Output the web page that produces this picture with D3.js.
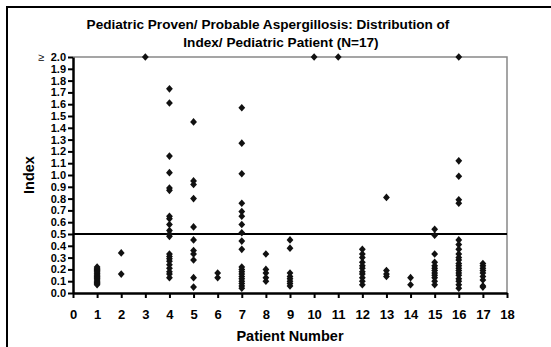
<!DOCTYPE html>
<html>
<head>
<meta charset="utf-8">
<script src="https://cdn.jsdelivr.net/npm/d3@7"></script>
<style>
  body { margin: 0; background: #fff; }
  svg text { font-family: Arial, "Liberation Sans", sans-serif; font-weight: bold; fill: #000; }
</style>
</head>
<body>
<div id="chart"></div>
<script>
// ---- Data (index values per patient)
const titleLines = ['Pediatric Proven/ Probable Aspergillosis: Distribution of',
                    'Index/ Pediatric Patient (N=17)'];
const xTicks = d3.range(0, 19);
const yTicks = d3.range(0, 21).map(i => i / 10);
const cutoff = 0.5;

const patientValues = [
  [1,  [0.07, 0.08, 0.09, 0.10, 0.11, 0.12, 0.13, 0.14, 0.15, 0.16, 0.17, 0.18, 0.19, 0.20, 0.21, 0.22]],
  [2,  [0.16, 0.34]],
  [3,  [2.0]],
  [4,  [1.73, 1.61, 1.16, 1.02, 0.89, 0.87, 0.65, 0.63, 0.58, 0.53, 0.50, 0.48, 0.33, 0.31, 0.29, 0.27, 0.24, 0.21, 0.18, 0.16, 0.13]],
  [5,  [1.45, 0.95, 0.92, 0.80, 0.56, 0.45, 0.36, 0.33, 0.28, 0.13, 0.05]],
  [6,  [0.17, 0.13]],
  [7,  [1.57, 1.27, 1.01, 0.76, 0.69, 0.65, 0.58, 0.51, 0.44, 0.37, 0.22, 0.20, 0.18, 0.16, 0.14, 0.12, 0.10, 0.08, 0.06, 0.04]],
  [8,  [0.33, 0.20, 0.17, 0.13, 0.10]],
  [9,  [0.45, 0.38, 0.17, 0.14, 0.12, 0.10, 0.08, 0.06]],
  [10, [2.0]],
  [11, [2.0]],
  [12, [0.37, 0.33, 0.30, 0.26, 0.23, 0.21, 0.18, 0.16, 0.13, 0.10, 0.07]],
  [13, [0.81, 0.19, 0.16, 0.14]],
  [14, [0.13, 0.07]],
  [15, [0.54, 0.49, 0.33, 0.26, 0.23, 0.21, 0.19, 0.17, 0.15, 0.13, 0.10, 0.07]],
  [16, [2.0, 1.12, 0.99, 0.79, 0.76, 0.45, 0.41, 0.37, 0.33, 0.30, 0.28, 0.25, 0.23, 0.21, 0.19, 0.17, 0.15, 0.12, 0.10, 0.07, 0.04]],
  [17, [0.25, 0.23, 0.21, 0.19, 0.17, 0.14, 0.11, 0.06, 0.05]]
];

const points = patientValues.flatMap(([p, vals]) => vals.map(v => ({ patient: p, value: v })));

// ---- Layout
const W = 551, H = 347;
const plot = { left: 73, right: 507, top: 57, bottom: 293 };

const svg = d3.select('#chart').append('svg')
  .attr('width', W).attr('height', H);

// outer frame (only left/top visible in the picture)
svg.append('rect')
  .attr('x', 7).attr('y', 7).attr('width', 700).attr('height', 500)
  .attr('fill', 'none').attr('stroke', '#000').attr('stroke-width', 2);

// ---- Scales
const x = d3.scaleLinear().domain([0, 18]).range([plot.left, plot.right]);
const y = d3.scaleLinear().domain([0, 2]).range([plot.bottom, plot.top]);

// ---- Title
svg.append('g').selectAll('text').data(titleLines).join('text')
  .attr('x', (d, i) => i === 0 ? 268 : 281)
  .attr('y', (d, i) => 29 + i * 18)
  .attr('text-anchor', 'middle')
  .style('font-size', '13.6px')
  .text(d => d);

// ---- Plot frame (gray top/right)
svg.append('path')
  .attr('d', `M${plot.left},${plot.top}H${plot.right}V${plot.bottom}`)
  .attr('fill', 'none').attr('stroke', '#888').attr('stroke-width', 1.5);

// ---- Axes
const xAxis = svg.append('g')
  .attr('transform', `translate(0,${plot.bottom})`)
  .call(d3.axisBottom(x).tickValues(xTicks).tickSize(5).tickSizeOuter(0).tickPadding(12).tickFormat(d3.format('d')));
xAxis.select('.domain').attr('stroke', '#000').attr('stroke-width', 2.5);
xAxis.selectAll('.tick line').attr('stroke', '#000').attr('stroke-width', 2);
xAxis.selectAll('.tick text')
  .style('font-size', '13px').style('font-family', 'Arial, "Liberation Sans", sans-serif')
  .style('font-weight', 'bold');

const yAxis = svg.append('g')
  .attr('transform', `translate(${plot.left},0)`)
  .call(d3.axisLeft(y).tickValues(yTicks).tickSize(5).tickSizeOuter(0).tickPadding(2).tickFormat(d3.format('.1f')));
yAxis.select('.domain').attr('stroke', '#000').attr('stroke-width', 2.5);
yAxis.selectAll('.tick line').attr('stroke', '#000').attr('stroke-width', 2);
yAxis.selectAll('.tick text')
  .style('font-size', '11px').style('font-family', 'Arial, "Liberation Sans", sans-serif')
  .style('font-weight', 'bold');

// "greater than or equal" mark next to the top tick
svg.append('text')
  .attr('x', 41).attr('y', y(2) + 4)
  .attr('text-anchor', 'middle')
  .style('font-size', '11px').style('font-weight', 'normal')
  .text('\u2265');

// ---- Cutoff line
svg.append('line')
  .attr('x1', plot.left).attr('x2', plot.right)
  .attr('y1', y(cutoff)).attr('y2', y(cutoff))
  .attr('stroke', '#000').attr('stroke-width', 2);

// ---- Axis titles
svg.append('text')
  .attr('transform', `translate(34,${(plot.top + plot.bottom) / 2}) rotate(-90)`)
  .attr('text-anchor', 'middle')
  .style('font-size', '14.5px')
  .text('Index');

svg.append('text')
  .attr('x', x(9)).attr('y', 341)
  .attr('text-anchor', 'middle')
  .style('font-size', '14.5px')
  .text('Patient Number');

// ---- Diamonds
const diamond = 'M0,-3.8L3.4,0L0,3.8L-3.4,0Z';
svg.append('g').selectAll('path').data(points).join('path')
  .attr('d', diamond)
  .attr('transform', d => `translate(${x(d.patient)},${y(d.value)})`)
  .attr('fill', '#111');
</script>
</body>
</html>
